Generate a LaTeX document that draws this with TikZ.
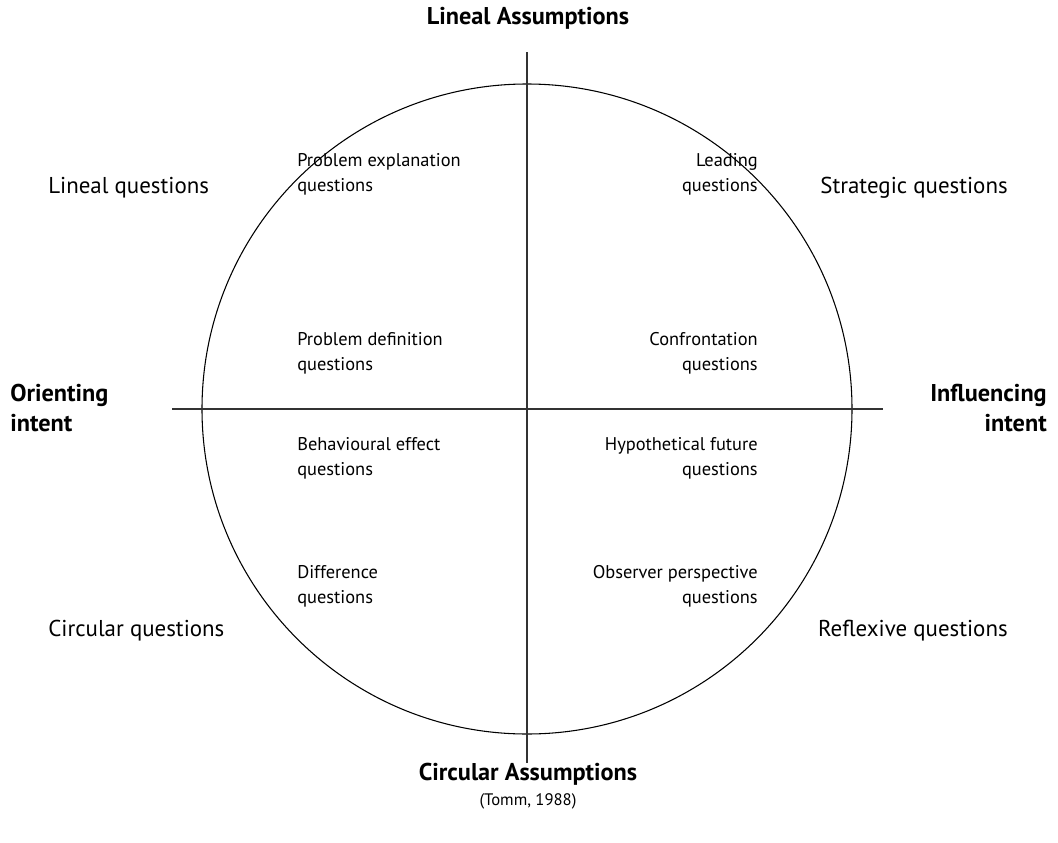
\documentclass[tikz,border=0pt]{standalone}
\usepackage{fontspec}
\setmainfont{PT Sans}
\begin{document}
\begin{tikzpicture}[x=0.75pt,y=-0.75pt,
  axis/.style={draw=black!80,line width=1.1pt},
  ring/.style={draw=black,line width=0.8pt},
  big/.style={font=\fontsize{17.2}{22.5}\selectfont,inner sep=0pt},
  bold/.style={font=\fontsize{18.2}{22.5}\selectfont\bfseries,inner sep=0pt},
  small/.style={font=\fontsize{13.8}{18.5}\selectfont,inner sep=0pt},
  tiny/.style={font=\fontsize{12.5}{18.5}\selectfont,inner sep=0pt}]
\useasboundingbox (0,0) rectangle (1058,843);
\coordinate (c) at (527,409);
\coordinate (vt) at (527,52);
\coordinate (vb) at (527,763);
\coordinate (hl) at (172,409);
\coordinate (hr) at (883,409);
\draw[ring] (c) circle[radius=325];
\draw[axis] (vt) -- (vb);
\draw[axis] (hl) -- (hr);
% axis labels
\node[bold] (la) at (528,18) {Lineal Assumptions};
\node[bold] (ca) at (528,774) {Circular Assumptions};
\node[tiny] (tm) at (528,801) {(Tomm, 1988)};
\node[bold,anchor=west,align=left] (oi) at (10,408) {Orienting\\intent};
\node[bold,anchor=east,align=right] (ii) at (1047,408) {Influencing\\intent};
% corner labels
\node[big,anchor=west] (lq) at (48,188) {Lineal questions};
\node[big,anchor=east] (sq) at (1008,188) {Strategic questions};
\node[big,anchor=west] (cq) at (48,631) {Circular questions};
\node[big,anchor=east] (rq) at (1008,631) {Reflexive questions};
% inner labels left
\node[small,anchor=west,align=left] (pe) at (297,174) {Problem explanation\\questions};
\node[small,anchor=west,align=left] (pd) at (297,353) {Problem definition\\questions};
\node[small,anchor=west,align=left] (be) at (297,458) {Behavioural effect\\questions};
\node[small,anchor=west,align=left] (df) at (297,586) {Difference\\questions};
% inner labels right
\node[small,anchor=east,align=right] (ld) at (758,174) {Leading\\questions};
\node[small,anchor=east,align=right] (cf) at (758,353) {Confrontation\\questions};
\node[small,anchor=east,align=right] (hf) at (758,458) {Hypothetical future\\questions};
\node[small,anchor=east,align=right] (op) at (758,586) {Observer perspective\\questions};
\end{tikzpicture}
\end{document}
